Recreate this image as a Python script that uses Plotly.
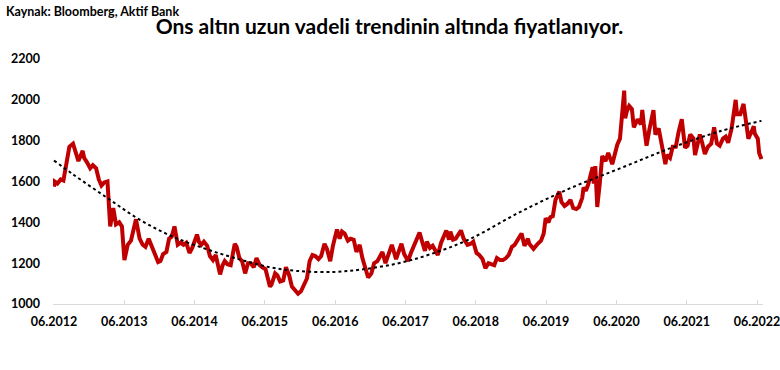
import plotly.graph_objects as go

# Ons altın (USD) - tarih / fiyat
dates = [
    "2012-06-27","2012-07-01","2012-07-15","2012-08-01","2012-08-15","2012-09-01","2012-09-15","2012-10-04","2012-10-15","2012-11-01",
    "2012-11-23","2012-12-01","2012-12-15","2013-01-01","2013-01-15","2013-02-01","2013-02-15","2013-03-01","2013-03-15","2013-04-01",
    "2013-04-15","2013-05-01","2013-05-15","2013-06-01","2013-06-15","2013-06-28","2013-07-15","2013-08-01","2013-08-27","2013-09-15",
    "2013-10-01","2013-10-15","2013-11-01","2013-11-15","2013-12-01","2013-12-20","2014-01-01","2014-01-15","2014-02-01","2014-02-15",
    "2014-03-01","2014-03-15","2014-04-01","2014-04-15","2014-05-01","2014-05-15","2014-06-01","2014-06-15","2014-07-10","2014-07-20",
    "2014-08-01","2014-08-15","2014-09-01","2014-09-15","2014-10-01","2014-10-15","2014-11-07","2014-11-20","2014-12-01","2014-12-15",
    "2015-01-01","2015-01-22","2015-02-01","2015-02-15","2015-03-01","2015-03-17","2015-04-01","2015-04-15","2015-05-01","2015-05-15",
    "2015-06-01","2015-06-15","2015-07-01","2015-07-24","2015-08-01","2015-08-20","2015-09-01","2015-09-15","2015-10-01","2015-10-15",
    "2015-11-01","2015-11-15","2015-12-01","2015-12-17","2016-01-01","2016-01-15","2016-02-01","2016-02-15","2016-03-01","2016-03-15",
    "2016-04-01","2016-04-15","2016-05-02","2016-05-15","2016-06-01","2016-06-15","2016-07-06","2016-07-20","2016-08-01","2016-08-15",
    "2016-09-01","2016-09-15","2016-10-01","2016-10-15","2016-11-01","2016-11-15","2016-12-01","2016-12-15","2017-01-01","2017-01-15",
    "2017-02-01","2017-02-27","2017-03-15","2017-04-01","2017-04-17","2017-05-09","2017-05-20","2017-06-06","2017-06-20","2017-07-10",
    "2017-07-25","2017-08-10","2017-09-08","2017-09-20","2017-10-06","2017-10-16","2017-11-01","2017-11-15","2017-12-12","2017-12-29",
    "2018-01-15","2018-01-25","2018-02-08","2018-02-15","2018-03-01","2018-03-15","2018-04-11","2018-04-25","2018-05-15","2018-06-01",
    "2018-06-14","2018-07-01","2018-07-15","2018-08-01","2018-08-16","2018-09-01","2018-09-15","2018-10-01","2018-10-15","2018-11-01",
    "2018-11-15","2018-12-01","2018-12-15","2019-01-01","2019-01-15","2019-02-01","2019-02-20","2019-03-07","2019-03-25","2019-04-01",
    "2019-04-23","2019-05-15","2019-06-01","2019-06-15","2019-06-25","2019-07-10","2019-07-19","2019-08-01","2019-08-15","2019-09-04",
    "2019-09-15","2019-10-01","2019-10-15","2019-11-01","2019-11-15","2019-12-01","2019-12-15","2020-01-01","2020-01-08","2020-01-20",
    "2020-02-01","2020-02-24","2020-03-01","2020-03-09","2020-03-19","2020-04-01","2020-04-14","2020-05-01","2020-05-15","2020-06-05",
    "2020-06-15","2020-07-01","2020-07-15","2020-07-27","2020-08-06","2020-08-11","2020-08-20","2020-09-01","2020-09-15","2020-09-25",
    "2020-10-15","2020-11-01","2020-11-08","2020-11-15","2020-11-30","2020-12-15","2021-01-05","2021-01-15","2021-02-01","2021-02-15",
    "2021-03-08","2021-03-15","2021-04-01","2021-04-15","2021-05-01","2021-05-15","2021-06-01","2021-06-18","2021-07-01","2021-07-15",
    "2021-08-01","2021-08-09","2021-08-20","2021-09-03","2021-09-15","2021-09-29","2021-10-15","2021-11-01","2021-11-16","2021-12-01",
    "2021-12-15","2022-01-01","2022-01-15","2022-01-28","2022-02-15","2022-02-24","2022-03-08","2022-03-15","2022-04-01","2022-04-18",
    "2022-05-01","2022-05-13","2022-06-01","2022-06-10","2022-06-15","2022-07-01","2022-07-08","2022-07-20",
]
prices = [
    1575,1600,1590,1610,1605,1690,1770,1785,1750,1700,
    1750,1715,1695,1665,1680,1665,1610,1580,1595,1600,
    1380,1470,1390,1400,1380,1215,1290,1310,1415,1320,
    1290,1280,1320,1280,1250,1205,1210,1245,1255,1320,
    1330,1380,1290,1300,1290,1300,1250,1275,1340,1305,
    1290,1305,1285,1235,1215,1240,1145,1190,1210,1195,
    1190,1295,1280,1225,1210,1150,1200,1200,1180,1225,
    1190,1180,1170,1085,1095,1150,1140,1110,1115,1180,
    1140,1085,1065,1050,1062,1090,1125,1210,1240,1235,
    1220,1235,1295,1270,1210,1285,1365,1320,1355,1345,
    1310,1320,1315,1255,1290,1225,1170,1130,1150,1200,
    1210,1255,1200,1250,1290,1220,1255,1295,1245,1210,
    1250,1285,1350,1310,1260,1305,1275,1285,1240,1300,
    1340,1360,1315,1355,1315,1320,1360,1320,1290,1295,
    1305,1250,1240,1220,1175,1200,1195,1190,1225,1215,
    1215,1225,1240,1280,1290,1320,1345,1285,1320,1295,
    1270,1295,1310,1345,1420,1400,1425,1430,1510,1550,
    1500,1480,1490,1510,1470,1465,1475,1520,1570,1555,
    1585,1670,1590,1675,1475,1590,1725,1700,1740,1685,
    1725,1780,1810,1940,2045,1910,1945,1970,1955,1865,
    1905,1880,1950,1885,1775,1855,1950,1830,1860,1790,
    1685,1730,1715,1770,1770,1840,1905,1765,1775,1830,
    1810,1730,1780,1830,1790,1735,1770,1785,1865,1785,
    1775,1810,1820,1790,1860,1910,2000,1930,1930,1980,
    1900,1810,1850,1870,1835,1810,1740,1710,
]

# Uzun vadeli trend
trend_dates = [
    "2012-06-27","2012-10-04","2013-03-30","2013-09-17","2014-03-06","2014-08-30","2015-02-03",
    "2015-07-23","2015-12-10","2016-06-21","2016-11-19","2017-05-14","2017-11-01","2018-05-27",
    "2019-02-11","2019-10-28","2020-07-15","2021-03-31","2021-12-16","2022-07-20",
]
trend_values = [
    1703,1635,1520,1412,1330,1268,1222,
    1180,1162,1157,1170,1198,1243,1318,
    1450,1566,1664,1762,1846,1897,
]

tick_dates = ["2012-06-27","2013-06-27","2014-06-27","2015-06-27","2016-06-27","2017-06-27",
              "2018-06-27","2019-06-27","2020-06-27","2021-06-27","2022-06-27"]
tick_labels = ["06.2012","06.2013","06.2014","06.2015","06.2016","06.2017",
               "06.2018","06.2019","06.2020","06.2021","06.2022"]
y_ticks = [1000, 1200, 1400, 1600, 1800, 2000, 2200]

FONT = "Lato"

fig = go.Figure()
fig.add_trace(go.Scatter(
    x=dates, y=prices, mode="lines",
    line=dict(color="#C00000", width=4),
    showlegend=False, hoverinfo="x+y",
))
fig.add_trace(go.Scatter(
    x=trend_dates, y=trend_values, mode="lines",
    line=dict(color="#000000", width=2, dash="dot", shape="spline", smoothing=1.0),
    showlegend=False, hoverinfo="skip",
))

fig.update_layout(
    width=780, height=370, autosize=False,
    margin=dict(l=53, r=17, t=59, b=66),
    paper_bgcolor="white", plot_bgcolor="white",
    font=dict(family=FONT, size=12, color="#000000"),
    title=dict(
        text="<b>Ons altın uzun vadeli trendinin altında fiyatlanıyor.</b>",
        font=dict(family=FONT, size=21, color="#000000"),
        xref="container", x=389.5 / 780, xanchor="center",
        yref="container", y=1 - 27 / 370, yanchor="middle",
    ),
    annotations=[dict(
        text="<b>Kaynak: Bloomberg, Aktif Bank</b>",
        xref="paper", yref="paper",
        x=(4 - 53) / 710, y=(304 - 12) / 245,
        xanchor="left", yanchor="middle", showarrow=False,
        font=dict(family=FONT, size=12.5, color="#000000"),
    )],
)

fig.update_xaxes(
    type="date", automargin=False,
    range=["2012-06-22", "2022-07-28"],
    tickmode="array", tickvals=tick_dates, ticktext=tick_labels,
    tickfont=dict(family=FONT, size=12.5, color="#000000", weight="bold"),
    showgrid=False, zeroline=False,
    showline=True, linecolor="#D9D9D9", linewidth=1,
    ticks="inside", ticklen=4, tickcolor="#D9D9D9", tickwidth=1,
    ticklabelstandoff=6, ticklabeloverflow="allow",
)
fig.update_yaxes(
    automargin=False,
    range=[1000, 2200],
    tickmode="array", tickvals=y_ticks, ticktext=[str(v) for v in y_ticks],
    tickfont=dict(family=FONT, size=12.5, color="#000000", weight="bold"),
    showgrid=False, zeroline=False, showline=False,
    ticks="", ticklabelstandoff=12,
)

fig.write_html(
    "out.html",
    config={"responsive": False, "displayModeBar": False},
    post_script="document.body.style.margin='0';document.body.style.overflow='hidden';",
)
